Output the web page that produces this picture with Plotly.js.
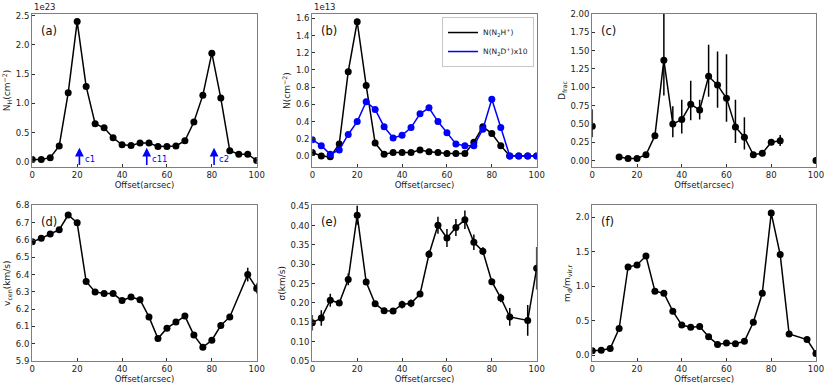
<!DOCTYPE html>
<html>
<head>
<meta charset="utf-8">
<script src="https://cdn.plot.ly/plotly-3.0.1.min.js"></script>
<style>
  html, body { margin: 0; padding: 0; background: #fff; }
  #graph { width: 830px; height: 387px; }
</style>
</head>
<body>
<div id="graph"></div>
<script>
// offsets along the cut, arcsec
const offset = [0, 4, 8, 12, 16, 20, 24, 28, 32, 36, 40, 44, 48, 52, 56, 60, 64, 68, 72, 76, 80, 84, 88, 92, 96, 100];
const offsetNo92 = [0, 4, 8, 12, 16, 20, 24, 28, 32, 36, 40, 44, 48, 52, 56, 60, 64, 68, 72, 76, 80, 84, 88, 96, 100];

// (a) N_H, units of 1e23
const nH = [0.04, 0.04, 0.07, 0.27, 1.18, 2.40, 1.29, 0.65, 0.58, 0.41, 0.29, 0.28, 0.32, 0.32, 0.26, 0.26, 0.27, 0.36, 0.68, 1.14, 1.86, 1.09, 0.19, 0.13, 0.13, 0.02];
const cores = ['c1', 'c11', 'c2'];
const coreOffset = [21, 51, 81];

// (b) column densities, units of 1e13
const nN2H = [0.04, 0.0, -0.01, 0.14, 0.98, 1.56, 0.82, 0.15, 0.02, 0.04, 0.04, 0.04, 0.07, 0.05, 0.04, 0.03, 0.03, 0.03, 0.16, 0.34, 0.26, 0.12, 0.0, 0.0, 0.0, 0.0];
const nN2Herr = [0.01, 0.01, 0.01, 0.01, 0.01, 0.01, 0.01, 0.01, 0.01, 0.01, 0.01, 0.01, 0.01, 0.01, 0.01, 0.01, 0.01, 0.01, 0.01, 0.01, 0.01, 0.01, 0.01, 0.01, 0.01, 0.01];
const nN2D = [0.19, 0.12, 0.02, 0.07, 0.25, 0.40, 0.63, 0.54, 0.34, 0.21, 0.24, 0.33, 0.49, 0.56, 0.40, 0.27, 0.14, 0.12, 0.12, 0.31, 0.66, 0.33, 0.0, 0.0, 0.0, 0.0];
const nN2Derr = [0.03, 0.03, 0.03, 0.03, 0.03, 0.03, 0.03, 0.03, 0.03, 0.03, 0.03, 0.03, 0.03, 0.03, 0.03, 0.03, 0.03, 0.03, 0.03, 0.03, 0.03, 0.03, 0.02, 0.02, 0.02, 0.02];

// (c) deuterium fraction
const dfrac = [0.47, null, null, 0.05, 0.03, 0.03, 0.08, 0.34, 1.37, 0.50, 0.56, 0.77, 0.69, 1.15, 1.03, 0.85, 0.46, 0.32, 0.08, 0.10, 0.25, 0.27, null, null, null, 0.0];
const dfracUp = [0.23, null, null, 0.01, 0.01, 0.01, 0.01, 0.02, 0.75, 0.24, 0.27, 0.32, 0.14, 0.43, 0.46, 0.60, 0.37, 0.27, 0.01, 0.01, 0.02, 0.08, null, null, null, 0.0];
const dfracLo = [0.15, null, null, 0.01, 0.01, 0.01, 0.01, 0.02, 0.48, 0.18, 0.19, 0.22, 0.13, 0.28, 0.31, 0.32, 0.22, 0.17, 0.01, 0.01, 0.02, 0.07, null, null, null, 0.0];

// (d) centroid velocity, km/s
const vcen = [6.59, 6.61, 6.635, 6.66, 6.745, 6.70, 6.36, 6.30, 6.29, 6.29, 6.25, 6.27, 6.255, 6.155, 6.03, 6.09, 6.125, 6.16, 6.05, 5.98, 6.02, 6.105, 6.155, 6.40, 6.32];
const vcenErr = [0.01, 0.01, 0.01, 0.01, 0.01, 0.01, 0.01, 0.005, 0.005, 0.005, 0.005, 0.005, 0.005, 0.008, 0.012, 0.012, 0.012, 0.015, 0.01, 0.008, 0.01, 0.01, 0.01, 0.04, 0.03];

// (e) velocity dispersion, km/s
const sigma = [0.149, 0.161, 0.207, 0.200, 0.261, 0.427, 0.254, 0.198, 0.180, 0.179, 0.196, 0.199, 0.223, 0.326, 0.401, 0.368, 0.395, 0.415, 0.357, 0.334, 0.255, 0.213, 0.164, 0.155, 0.290];
const sigmaErr = [0.02, 0.02, 0.017, 0.008, 0.015, 0.025, 0.005, 0.006, 0.004, 0.007, 0.01, 0.01, 0.006, 0.01, 0.022, 0.023, 0.022, 0.024, 0.02, 0.01, 0.006, 0.011, 0.023, 0.04, 0.055];

// (f) m_d / m_vir,r
const mratio = [0.07, 0.075, 0.10, 0.39, 1.28, 1.31, 1.44, 0.93, 0.90, 0.64, 0.44, 0.41, 0.42, 0.27, 0.16, 0.18, 0.17, 0.205, 0.48, 0.90, 2.06, 1.46, 0.31, 0.23, 0.03];

const FONT = 'DejaVu Sans, sans-serif';
const SPINE = '#7f7f7f';

function lineTrace(x, y, ax, color, name) {
    return {
        type: 'scatter', mode: 'lines', x: x, y: y,
        xaxis: 'x' + ax, yaxis: 'y' + ax,
        line: {color: color, width: 1.5},
        name: name || 'line', showlegend: !!name,
        hoverinfo: 'skip'
    };
}

function dotTrace(x, y, ax, color, err, errMinus) {
    let t = {
        type: 'scatter', mode: 'markers', x: x, y: y,
        xaxis: 'x' + ax, yaxis: 'y' + ax,
        marker: {color: color, size: 7},
        name: 'points', showlegend: false
    };
    if (err) {
        t.error_y = {type: 'data', array: err, color: color, thickness: 1.5, width: 0, visible: true};
        if (errMinus) {
            t.error_y.symmetric = false;
            t.error_y.arrayminus = errMinus;
        }
    }
    return t;
}

let data = [
    lineTrace(offset, nH, '', 'black'),
    dotTrace(offset, nH, '', 'black'),

    lineTrace(offset, nN2H, '2', 'black', 'N(N<sub>2</sub>H<sup>+</sup>)'),
    dotTrace(offset, nN2H, '2', 'black', nN2Herr),
    lineTrace(offset, nN2D, '2', 'blue', 'N(N<sub>2</sub>D<sup>+</sup>)x10'),
    dotTrace(offset, nN2D, '2', 'blue', nN2Derr),

    lineTrace(offset, dfrac, '3', 'black'),
    dotTrace(offset, dfrac, '3', 'black', dfracUp, dfracLo),

    lineTrace(offsetNo92, vcen, '4', 'black'),
    dotTrace(offsetNo92, vcen, '4', 'black', vcenErr),

    lineTrace(offsetNo92, sigma, '5', 'black'),
    dotTrace(offsetNo92, sigma, '5', 'black', sigmaErr),

    lineTrace(offsetNo92, mratio, '6', 'black'),
    dotTrace(offsetNo92, mratio, '6', 'black'),
];

function xAxis(domain, anchor) {
    return {
        domain: domain, anchor: anchor, range: [0, 100], dtick: 20, tick0: 0,
        ticks: 'inside', ticklen: 3, tickcolor: '#333', mirror: true,
        showline: true, linecolor: SPINE, linewidth: 1.2,
        showgrid: false, zeroline: false,
        tickfont: {size: 8.5, family: FONT, color: '#222'},
        title: {text: 'Offset(arcsec)', font: {size: 8.5, family: FONT, color: '#222'}, standoff: 2}
    };
}

function yAxis(domain, anchor, range, dtick, fmt, title) {
    return {
        domain: domain, anchor: anchor, range: range, dtick: dtick, tick0: 0,
        tickformat: fmt,
        ticks: 'inside', ticklen: 3, tickcolor: '#333', mirror: true,
        showline: true, linecolor: SPINE, linewidth: 1.2,
        showgrid: false, zeroline: false,
        tickfont: {size: 8.5, family: FONT, color: '#222'},
        title: {text: title, font: {size: 9, family: FONT, color: '#222'}, standoff: 3}
    };
}

const col1 = [0.0389, 0.3093], col2 = [0.3763, 0.6466], col3 = [0.7136, 0.9831];
const rowTop = [0.5685, 0.9638], rowBot = [0.0672, 0.469];

let annotations = [];
['(a)', '(b)', '(c)', '(d)', '(e)', '(f)'].forEach(function (lab, i) {
    let ax = i === 0 ? '' : String(i + 1);
    annotations.push({
        text: lab, xref: 'x' + ax + ' domain', yref: 'y' + ax + ' domain',
        x: 0.03, y: 0.95, xanchor: 'left', yanchor: 'top', showarrow: false,
        font: {size: 11.5, family: FONT, color: '#111'}
    });
});
[['', '1e23'], ['2', '1e13']].forEach(function (p) {
    annotations.push({
        text: p[1], xref: 'x' + p[0] + ' domain', yref: 'y' + p[0] + ' domain',
        x: 0, y: 1, xanchor: 'left', yanchor: 'bottom', showarrow: false,
        font: {size: 8.5, family: FONT, color: '#222'}
    });
});
for (let i = 0; i < cores.length; i++) {
    // label to the right of the arrow
    annotations.push({
        x: coreOffset[i] + 1.5, y: 0.04, xref: 'x', yref: 'y',
        text: cores[i], showarrow: false, xanchor: 'left', yanchor: 'middle',
        font: {size: 8.5, family: FONT, color: 'blue'}
    });
    // arrow from the bottom axis up to the core position
    annotations.push({
        x: coreOffset[i], y: 0.24, xref: 'x', yref: 'y',
        ax: coreOffset[i], ay: -0.09, axref: 'x', ayref: 'y',
        text: ' ', showarrow: true, arrowhead: 2, arrowsize: 1.1, arrowwidth: 1.6,
        arrowcolor: 'blue', standoff: 0, startstandoff: 0,
        font: {size: 1}
    });
}

let layout = {
    width: 830, height: 387,
    margin: {l: 0, r: 0, t: 0, b: 0},
    paper_bgcolor: 'white', plot_bgcolor: 'white',
    font: {family: FONT, size: 8.5, color: '#222'},
    showlegend: true,
    legend: {
        x: 0.6434, y: 0.956, xanchor: 'right', yanchor: 'top',
        bordercolor: '#c8c8c8', borderwidth: 1, bgcolor: 'white',
        font: {size: 7.5, family: FONT}, tracegroupgap: 0, itemwidth: 30
    },
    xaxis: xAxis(col1, 'y'),
    yaxis: yAxis(rowTop, 'x', [-0.09, 2.53], 0.5, '.1f', 'N<sub>H</sub>(cm<sup>−2</sup>)'),
    xaxis2: xAxis(col2, 'y2'),
    yaxis2: yAxis(rowTop, 'x2', [-0.128, 1.65], 0.2, '.1f', 'N(cm<sup>−2</sup>)'),
    xaxis3: xAxis(col3, 'y3'),
    yaxis3: yAxis(rowTop, 'x3', [-0.087, 2.0], 0.25, '.2f', 'D<sub>frac</sub>'),
    xaxis4: xAxis(col1, 'y4'),
    yaxis4: yAxis(rowBot, 'x4', [5.9, 6.8], 0.1, '.1f', 'v<sub>cen</sub>(km/s)'),
    xaxis5: xAxis(col2, 'y5'),
    yaxis5: yAxis(rowBot, 'x5', [0.05, 0.452], 0.05, '.2f', 'σ(km/s)'),
    xaxis6: xAxis(col3, 'y6'),
    yaxis6: yAxis(rowBot, 'x6', [-0.08, 2.17], 0.5, '.1f', 'm<sub>d</sub>/m<sub>vir,r</sub>'),
    annotations: annotations
};

let config = {staticPlot: true, responsive: false};
Plotly.newPlot('graph', data, layout, config);
</script>
</body>
</html>
